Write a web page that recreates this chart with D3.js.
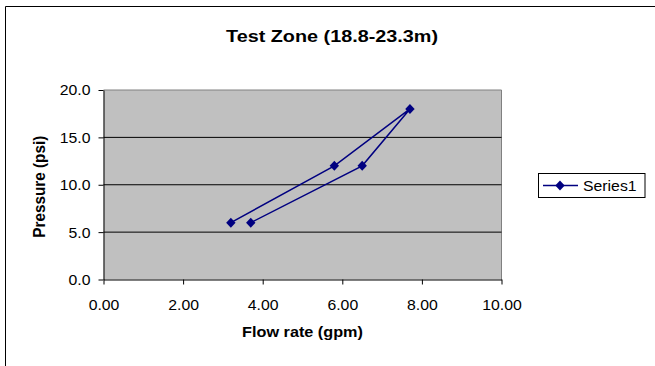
<!DOCTYPE html>
<html>
<head>
<meta charset="utf-8">
<script src="https://cdn.jsdelivr.net/npm/d3@7"></script>
<style>
  html, body { margin: 0; padding: 0; background: #fff; }
  svg { display: block; font-family: Arial, "Liberation Sans", sans-serif; }
</style>
</head>
<body>
<svg id="chart" width="655" height="366"></svg>
<script>
// ---- data ----
const flowRate = [3.2, 5.8, 7.7, 6.5, 3.7];
const pressure = [6, 12, 18, 12, 6];
const xTicks = [0, 2, 4, 6, 8, 10];
const yTicks = [0, 5, 10, 15, 20];
const seriesName = "Series1";
const chartTitle = "Test Zone (18.8-23.3m)";
const xTitle = "Flow rate (gpm)";
const yTitle = "Pressure (psi)";

const points = flowRate.map((v, i) => ({ x: v, y: pressure[i] }));

const svg = d3.select("#chart");
const navy = "#000080";

// outer chart border
svg.append("path")
  .attr("d", "M5.5,370 L5.5,6.5 L660,6.5")
  .attr("fill", "none").attr("stroke", "#000").attr("stroke-width", 1);

const x = d3.scaleLinear().domain([0, 10]).range([103.5, 501.5]);
const y = d3.scaleLinear().domain([0, 20]).range([279.5, 90]);

// plot area
svg.append("rect")
  .attr("x", x(0)).attr("y", y(20))
  .attr("width", x(10) - x(0)).attr("height", y(0) - y(20))
  .attr("fill", "#c0c0c0");
// plot border top/right (gray)
svg.append("path")
  .attr("d", `M${x(0)},${y(20)} L${x(10)},${y(20)} L${x(10)},${y(0)}`)
  .attr("fill", "none").attr("stroke", "#808080").attr("stroke-width", 1);

// gridlines
svg.append("g").selectAll("line")
  .data(yTicks.filter(t => t > 0 && t < 20))
  .join("line")
  .attr("x1", x(0)).attr("x2", x(10))
  .attr("y1", d => y(d)).attr("y2", d => y(d))
  .attr("stroke", "#000").attr("stroke-width", 1);

// axes
const xAxis = svg.append("g")
  .attr("transform", `translate(0,${y(0)})`)
  .call(d3.axisBottom(x).tickValues(xTicks).tickFormat(d3.format(".2f")).tickSize(5).tickSizeOuter(0));
const yAxis = svg.append("g")
  .attr("transform", `translate(${x(0)},0)`)
  .call(d3.axisLeft(y).tickValues(yTicks).tickFormat(d3.format(".1f")).tickSize(5).tickSizeOuter(0));

[xAxis, yAxis].forEach(g => {
  g.select(".domain").attr("stroke", "#000");
  g.selectAll(".tick line").attr("stroke", "#000");
  g.selectAll(".tick text")
    .attr("fill", "#000")
    .style("font-size", "14px")
    .style("font-family", "Arial, 'Liberation Sans', sans-serif");
});
xAxis.selectAll(".tick text")
  .attr("y", null).attr("dy", null)
  .attr("transform", "translate(0,30.5) scale(1.13,1)");
yAxis.selectAll(".tick text")
  .attr("x", null).attr("dy", "0.35em")
  .attr("transform", "translate(-13,0) scale(1.13,1)");

// series line
svg.append("path")
  .datum(points)
  .attr("d", d3.line().x(d => x(d.x)).y(d => y(d.y)))
  .attr("fill", "none").attr("stroke", navy).attr("stroke-width", 1.5);

const diamond = "M0,-5L4.7,0L0,5L-4.7,0Z";
svg.append("g").selectAll("path")
  .data(points)
  .join("path")
  .attr("d", diamond)
  .attr("transform", d => `translate(${x(d.x)},${y(d.y)})`)
  .attr("fill", navy);

// title
svg.append("text")
  .attr("transform", "translate(332,42) scale(1.2,1)")
  .attr("text-anchor", "middle")
  .style("font-size", "16.5px").style("font-weight", "bold")
  .text(chartTitle);

// x title
svg.append("text")
  .attr("transform", `translate(${(x(0) + x(10)) / 2},337) scale(1.12,1)`)
  .attr("text-anchor", "middle")
  .style("font-size", "14.5px").style("font-weight", "bold")
  .text(xTitle);

// y title
svg.append("text")
  .attr("transform", `translate(44.5,${(y(0) + y(20)) / 2 + 2}) rotate(-90) scale(1,1.12)`)
  .attr("text-anchor", "middle")
  .style("font-size", "15.3px").style("font-weight", "bold")
  .text(yTitle);

// legend
const lg = svg.append("g").attr("transform", "translate(538.5,173.5)");
lg.append("rect").attr("width", 106.5).attr("height", 24)
  .attr("fill", "#fff").attr("stroke", "#000").attr("stroke-width", 1);
lg.append("line").attr("x1", 4.5).attr("x2", 39.5).attr("y1", 12).attr("y2", 12)
  .attr("stroke", navy).attr("stroke-width", 1.5);
lg.append("path").attr("d", diamond).attr("transform", "translate(21.5,12)").attr("fill", navy);
lg.append("text")
  .attr("transform", "translate(44.5,17) scale(1.13,1)")
  .style("font-size", "14px")
  .text(seriesName);
</script>
</body>
</html>
